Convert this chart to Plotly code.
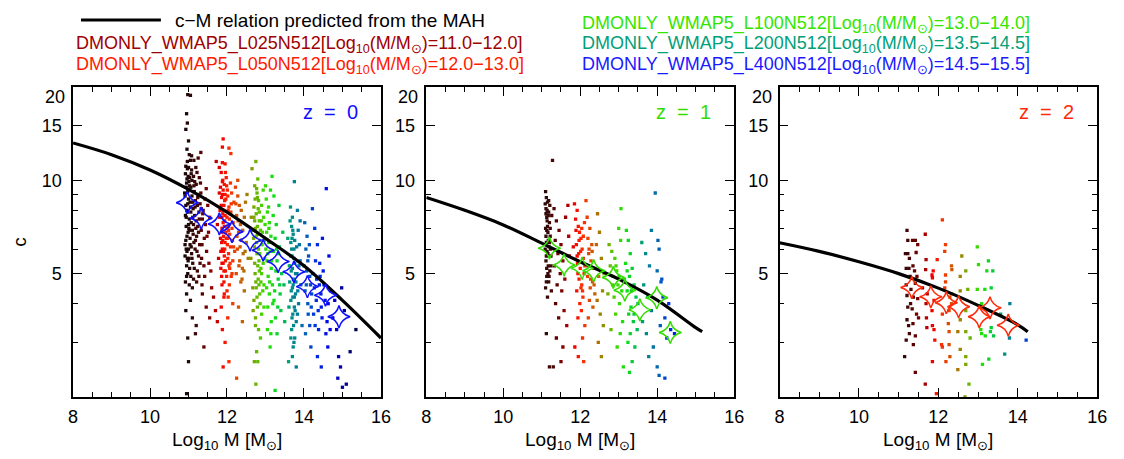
import plotly.graph_objects as go

W, H = 1124, 459

# c-M relation predicted from the MAH
curve_mass_z0 = [8, 9, 10, 11, 12, 13, 14, 15, 16]
curve_conc_z0 = [13.2, 12.1, 10.8, 9.35, 7.9, 6.5, 5.3, 4.1, 3.1]
curve_mass_z1 = [8, 9, 10, 11, 12, 13, 14, 15, 15.17]
curve_conc_z1 = [8.8, 8.0, 7.18, 6.27, 5.46, 4.8, 4.11, 3.35, 3.25]
curve_mass_z2 = [8, 9, 10, 11, 12, 13, 14, 14.25]
curve_conc_z2 = [6.29, 5.9, 5.46, 5.0, 4.49, 3.95, 3.42, 3.25]

# median concentration in mass bins (star symbols)
star_mass_z0 = [10.97, 11.33, 11.80, 12.13, 12.60, 12.94, 13.33, 13.74, 14.09, 14.56, 14.91]
star_conc_z0 = [8.47, 7.55, 7.23, 6.83, 6.41, 5.95, 5.47, 5.07, 4.54, 4.26, 3.63]
star_mass_z1 = [11.20, 11.58, 12.05, 12.35, 12.86, 13.16, 13.55, 13.99, 14.34]
star_conc_z1 = [6.04, 5.33, 5.20, 5.11, 4.86, 4.42, 3.82, 4.18, 3.23]
star_mass_z2 = [11.33, 11.81, 12.20, 12.51, 13.03, 13.30, 13.76]
star_conc_z2 = [4.51, 4.21, 4.03, 3.91, 3.63, 3.88, 3.41]

# individual haloes (log10 M, c)
halos_z0 = [
    (10.92, 10.5), (10.95, 9.8), (10.98, 9.2), (11.00, 8.7), (10.93, 8.3), (10.97, 7.9), (11.02, 7.5),
    (10.94, 7.1), (10.99, 6.8), (11.04, 6.5), (10.91, 6.2), (10.96, 5.9), (11.01, 5.6), (10.95, 5.3),
    (10.98, 5.0), (11.06, 9.5), (11.09, 8.9), (11.12, 8.1), (11.07, 7.3), (11.10, 6.9), (11.14, 6.3),
    (11.08, 5.8), (11.11, 5.4), (11.16, 7.7), (11.18, 8.6), (11.20, 9.7), (11.22, 10.6), (11.17, 6.0),
    (11.21, 6.6), (11.24, 7.1), (11.27, 7.9), (11.30, 8.4), (11.26, 5.7), (11.29, 6.2), (11.33, 6.9),
    (11.36, 7.5), (11.32, 9.1), (11.38, 8.0), (11.41, 6.5), (11.44, 7.2), (11.47, 5.9), (11.40, 5.3),
    (11.50, 8.3), (11.46, 9.4), (10.93, 11.1), (10.97, 10.9), (11.03, 10.2), (11.05, 11.6), (11.13, 10.3),
    (11.19, 11.0), (10.94, 7.6), (10.96, 6.6), (11.00, 6.0), (11.03, 5.2), (11.06, 4.9), (10.92, 4.7),
    (11.13, 4.8), (11.23, 5.1), (11.35, 4.6), (11.09, 10.0), (11.15, 9.2), (11.25, 9.0), (11.05, 8.2),
    (11.01, 9.9), (10.99, 10.3), (11.28, 10.2), (11.34, 5.6), (11.42, 4.9), (11.52, 6.8), (11.55, 7.6),
    (11.58, 5.1), (10.91, 8.9), (10.94, 9.5), (10.96, 8.0), (11.00, 7.2), (10.93, 6.4), (10.97, 5.6),
    (11.02, 6.9), (11.04, 8.5), (11.07, 6.1), (11.11, 7.6), (11.19, 7.0), (11.23, 8.3),
    (10.90, 9.1), (10.92, 7.7), (10.94, 6.0), (10.96, 10.1), (10.98, 8.4), (10.99, 5.5), (11.01, 7.0),
    (11.03, 9.6), (11.04, 6.2), (11.06, 7.9), (11.08, 10.8), (11.09, 5.6), (11.11, 8.5), (11.12, 6.7),
    (11.14, 9.6), (11.15, 5.2), (11.17, 8.2), (11.18, 6.4), (11.20, 7.4), (11.22, 5.9), (11.24, 8.8),
    (11.26, 6.8), (11.28, 7.5), (11.30, 5.4), (11.31, 9.8), (11.33, 8.1), (11.35, 6.2), (10.91, 5.7),
    (10.95, 4.9), (10.97, 11.5), (11.00, 11.0), (11.02, 4.6), (11.07, 10.5), (11.10, 4.5), (11.13, 7.2),
    (11.16, 9.9), (11.21, 4.7), (11.27, 4.9), (11.37, 7.8), (11.43, 8.7), (11.48, 6.6), (11.53, 5.4),
    (10.98, 18.9), (11.05, 18.8), (10.95, 16.4), (10.97, 15.3), (10.93, 14.6), (11.00, 13.4),
    (10.96, 12.6), (11.02, 12.1), (11.08, 12.0), (11.14, 11.6), (11.25, 11.8), (11.32, 12.3),
    (10.95, 4.3), (11.05, 4.1), (10.93, 3.8), (11.10, 3.6), (11.20, 3.4), (10.98, 3.1), (11.00, 2.6),
    (11.36, 4.3), (11.46, 3.9), (10.95, 2.05), (11.18, 3.2), (11.60, 4.5), (11.55, 3.6), (11.40, 2.9),
    (11.85, 10.6), (11.88, 9.9), (11.90, 9.3), (11.86, 8.8), (11.92, 8.3), (11.89, 7.8), (11.94, 7.4),
    (11.87, 7.0), (11.91, 6.6), (11.95, 6.3), (11.88, 6.0), (11.93, 5.7), (11.90, 5.4), (11.96, 5.1),
    (11.86, 4.9), (11.99, 9.6), (12.02, 8.9), (12.05, 8.2), (12.00, 7.6), (12.03, 7.1), (12.07, 6.7),
    (12.01, 6.2), (12.04, 5.8), (12.08, 5.4), (12.10, 7.9), (12.12, 9.1), (11.98, 10.2), (12.14, 6.4),
    (12.16, 7.3), (12.18, 8.5), (12.20, 5.9), (12.13, 5.0), (11.83, 6.5), (11.82, 8.0), (11.80, 9.1),
    (11.78, 5.6), (11.75, 7.2), (11.92, 4.7), (12.06, 4.6), (11.97, 6.8), (11.94, 8.6), (11.89, 10.0),
    (12.09, 9.8), (11.84, 5.2), (12.00, 4.4), (12.11, 4.9), (11.87, 7.6), (11.91, 5.9), (11.95, 9.0),
    (12.02, 6.5), (11.86, 6.3), (11.93, 7.1), (12.05, 5.3),
    (11.81, 7.6), (11.83, 9.5), (11.84, 5.9), (11.85, 8.3), (11.86, 6.8), (11.87, 5.4), (11.88, 9.0),
    (11.89, 6.4), (11.90, 7.3), (11.91, 8.0), (11.92, 5.1), (11.93, 9.7), (11.94, 6.0), (11.95, 7.7),
    (11.96, 5.5), (11.97, 8.7), (11.98, 6.5), (11.99, 4.9), (12.00, 7.0), (12.01, 9.3), (12.02, 5.6),
    (12.03, 8.0), (12.04, 6.9), (12.06, 7.5), (12.07, 5.2), (12.09, 6.1), (12.11, 8.4), (12.13, 7.0),
    (12.15, 5.5), (12.17, 6.1), (11.87, 4.6), (11.93, 4.3), (12.03, 4.2), (11.96, 10.6), (11.88, 11.4),
    (11.90, 13.6), (11.88, 12.8), (12.05, 12.7), (12.10, 12.2), (11.95, 11.3), (11.72, 11.5),
    (11.80, 11.0), (11.92, 4.2), (11.85, 3.9), (12.02, 3.6), (11.88, 3.3), (11.95, 3.0), (11.90, 2.5),
    (12.05, 2.6), (12.15, 4.0), (11.75, 3.5), (12.25, 2.3), (11.65, 4.2), (11.70, 3.8),
    (12.22, 9.5), (12.28, 8.9), (12.32, 8.3), (12.25, 7.7), (12.35, 7.2), (12.30, 6.8), (12.38, 6.4),
    (12.27, 6.0), (12.42, 5.8), (12.33, 5.5), (12.45, 7.6), (12.48, 8.5), (12.40, 5.2), (12.24, 5.0),
    (12.50, 6.3), (12.36, 4.7), (12.45, 4.4), (12.30, 3.9), (12.52, 9.0), (12.55, 5.6), (12.28, 10.0),
    (12.40, 3.5), (12.23, 8.4), (12.26, 6.6), (12.29, 7.4), (12.31, 5.3), (12.34, 6.1), (12.37, 8.0),
    (12.41, 6.9), (12.44, 5.1), (12.47, 5.9), (12.39, 4.8),
    (12.65, 10.9), (12.75, 11.5), (12.80, 10.1), (12.72, 9.6), (12.78, 9.1), (12.82, 8.6), (12.70, 8.2),
    (12.76, 7.8), (12.84, 7.4), (12.74, 7.0), (12.80, 6.7), (12.86, 6.4), (12.71, 6.1), (12.78, 5.8),
    (12.83, 5.5), (12.88, 5.2), (12.73, 5.0), (12.81, 4.8), (12.76, 4.5), (12.85, 4.3), (12.70, 4.1),
    (12.79, 3.9), (12.90, 3.7), (12.68, 3.8), (12.74, 3.6), (12.92, 6.8), (12.95, 7.6), (12.90, 8.3),
    (12.94, 9.3), (12.98, 5.6), (12.96, 4.6), (12.62, 5.6), (12.66, 6.9), (12.82, 3.3), (12.77, 2.8),
    (12.80, 2.6), (12.75, 2.2), (12.87, 3.1), (12.77, 6.3), (12.72, 7.4), (12.84, 5.1), (12.79, 8.8),
    (12.70, 7.6), (12.72, 5.4), (12.73, 8.7), (12.75, 4.7), (12.76, 6.6), (12.77, 9.4), (12.78, 4.2),
    (12.79, 7.1), (12.80, 5.3), (12.81, 8.1), (12.82, 6.0), (12.83, 4.6), (12.84, 7.9), (12.85, 5.8),
    (12.86, 4.0), (12.87, 6.9), (12.88, 4.7), (12.89, 7.4), (12.90, 5.0), (12.91, 6.2), (12.93, 4.4),
    (12.94, 5.4), (12.97, 6.4), (12.99, 7.2), (12.67, 4.5), (12.69, 6.5), (12.74, 3.4), (12.71, 2.6),
    (12.96, 3.9), (12.63, 7.6),
    (13.02, 8.7), (13.05, 7.9), (13.10, 7.3), (13.03, 6.8), (13.08, 6.3), (13.12, 5.9), (13.04, 5.5),
    (13.15, 5.2), (13.07, 4.9), (13.18, 4.6), (13.10, 4.3), (13.22, 4.1), (13.06, 3.9), (13.25, 6.5),
    (13.28, 7.2), (13.20, 7.7), (13.30, 5.5), (13.33, 4.8), (13.36, 6.1), (13.40, 3.8), (13.15, 3.5),
    (13.30, 3.2), (13.00, 9.6), (13.13, 9.3), (13.22, 8.9), (13.35, 8.3), (13.05, 3.3), (13.12, 2.9),
    (13.25, 2.1), (13.42, 5.0), (13.45, 6.8), (13.17, 10.3), (13.38, 4.3), (13.48, 4.6), (13.50, 3.5),
    (13.01, 6.0), (13.03, 4.5), (13.06, 5.8), (13.09, 7.0), (13.11, 4.7), (13.14, 6.6), (13.16, 5.5),
    (13.19, 4.0), (13.21, 5.9), (13.24, 4.4), (13.27, 5.1), (13.29, 6.0), (13.32, 3.9), (13.34, 5.8),
    (13.37, 4.6), (13.08, 8.2), (13.26, 3.6), (13.14, 3.2),
    (13.65, 8.2), (13.70, 7.6), (13.68, 7.1), (13.72, 6.7), (13.66, 6.3), (13.74, 6.0), (13.69, 5.7),
    (13.76, 5.4), (13.67, 5.1), (13.73, 4.8), (13.70, 4.5), (13.78, 4.3), (13.66, 4.1), (13.75, 3.9),
    (13.71, 3.7), (13.80, 3.5), (13.68, 3.3), (13.76, 3.1), (13.72, 2.9), (13.85, 6.9), (13.88, 6.2),
    (13.90, 5.5), (13.82, 5.0), (13.92, 4.6), (13.86, 4.0), (13.62, 5.3), (13.58, 6.5), (13.90, 7.4),
    (13.83, 8.0), (13.75, 9.9), (13.60, 2.6), (13.95, 3.4), (13.80, 2.5), (13.69, 6.5), (13.71, 4.2),
    (13.64, 7.4), (13.66, 5.7), (13.67, 4.4), (13.68, 6.0), (13.69, 3.6), (13.70, 5.2), (13.71, 6.9),
    (13.72, 4.6), (13.73, 3.4), (13.74, 5.6), (13.75, 4.2), (13.76, 6.4), (13.77, 3.8), (13.78, 5.0),
    (13.79, 4.7), (13.81, 6.1), (13.83, 3.7), (13.84, 4.4), (13.87, 5.3), (13.70, 2.7), (13.74, 3.0),
    (13.66, 3.1), (13.63, 4.7), (13.61, 3.9),
    (14.02, 7.3), (14.08, 6.6), (14.05, 6.0), (14.12, 5.7), (14.00, 5.3), (14.15, 4.9), (14.06, 4.6),
    (14.20, 4.3), (14.10, 4.0), (14.25, 3.7), (14.15, 3.4), (14.30, 5.5), (14.35, 6.2), (14.40, 4.6),
    (14.45, 3.9), (14.38, 3.3), (14.50, 5.1), (14.55, 4.1), (14.60, 3.5), (14.28, 7.0), (14.22, 8.1),
    (14.48, 6.5), (14.65, 5.7), (14.70, 4.4), (14.18, 2.9), (14.35, 2.7), (14.62, 2.9), (14.45, 2.5),
    (14.75, 3.6), (14.80, 4.1), (14.58, 9.4), (14.42, 4.9), (14.32, 4.1),
    (14.03, 4.4), (14.07, 5.1), (14.11, 3.7), (14.14, 6.2), (14.17, 4.6), (14.19, 3.9), (14.23, 5.0),
    (14.27, 4.5), (14.29, 3.4), (14.33, 4.8), (14.37, 3.8), (14.41, 5.4), (14.44, 4.3), (14.47, 3.6),
    (14.52, 4.6), (14.57, 3.2), (14.63, 4.0), (14.68, 3.3), (14.10, 5.5), (14.04, 3.2),
    (14.85, 3.3), (14.90, 2.7), (14.95, 2.5), (14.88, 2.3), (15.05, 3.8), (15.20, 2.8), (15.35, 3.3),
    (15.10, 2.2), (14.98, 4.5), (15.00, 2.15),
]

halos_z1 = [
    (11.10, 9.2), (11.12, 8.8), (11.15, 8.5), (11.11, 8.1), (11.18, 7.9), (11.13, 7.6), (11.20, 7.3),
    (11.10, 7.0), (11.16, 6.8), (11.22, 6.6), (11.12, 6.3), (11.19, 6.1), (11.14, 5.9), (11.24, 5.7),
    (11.11, 5.5), (11.17, 5.3), (11.21, 5.1), (11.13, 4.9), (11.18, 4.7), (11.10, 4.5), (11.25, 4.4),
    (11.15, 4.2), (11.12, 3.2), (11.20, 2.5), (11.28, 11.6), (11.14, 7.4), (11.21, 8.3), (11.26, 7.7),
    (11.23, 6.0), (11.16, 5.0), (11.11, 7.8), (11.13, 6.9), (11.17, 6.4), (11.12, 5.7),
    (11.09, 8.4), (11.11, 6.6), (11.13, 5.2), (11.14, 8.0), (11.15, 7.1), (11.16, 5.8), (11.17, 7.7),
    (11.19, 4.9), (11.20, 6.3), (11.22, 7.0), (11.09, 6.0), (11.12, 4.7), (11.18, 8.6), (11.24, 5.3),
    (11.32, 8.1), (11.38, 7.4), (11.45, 6.9), (11.35, 6.4), (11.50, 6.2), (11.42, 5.8), (11.55, 5.5),
    (11.33, 5.3), (11.48, 5.0), (11.60, 4.8), (11.40, 4.6), (11.52, 4.4), (11.36, 4.0), (11.58, 3.8),
    (11.44, 3.6), (11.65, 3.4), (11.38, 3.1), (11.55, 2.9), (11.70, 6.6), (11.62, 7.6), (11.68, 8.3),
    (11.30, 2.5), (11.50, 2.6), (11.72, 5.7),
    (11.85, 8.4), (11.92, 8.0), (11.88, 7.5), (11.95, 7.1), (11.98, 6.8), (12.02, 6.5), (11.90, 6.2),
    (12.05, 6.0), (11.96, 5.8), (12.08, 5.6), (11.93, 5.4), (12.00, 5.2), (12.10, 5.0), (11.97, 4.8),
    (12.04, 4.6), (11.91, 4.4), (12.07, 4.2), (11.99, 4.0), (12.03, 3.8), (11.94, 3.6), (12.12, 3.4),
    (12.06, 3.1), (11.86, 2.9), (12.09, 2.6), (11.95, 2.7), (12.15, 8.6), (12.11, 7.3), (11.82, 6.1),
    (11.89, 6.9), (11.94, 5.0), (11.97, 6.4), (12.01, 5.9), (12.04, 7.0), (12.06, 4.4), (12.08, 6.6),
    (11.92, 5.7), (12.02, 4.5), (12.12, 5.3),
    (12.18, 7.6), (12.25, 7.0), (12.20, 6.5), (12.30, 6.2), (12.22, 5.8), (12.28, 5.5), (12.35, 5.2),
    (12.19, 4.9), (12.32, 4.7), (12.26, 4.5), (12.38, 4.3), (12.24, 4.1), (12.33, 3.9), (12.21, 3.6),
    (12.20, 5.3), (12.23, 6.0), (12.27, 4.8), (12.31, 5.9), (12.36, 4.6),
    (12.45, 7.8), (12.50, 6.8), (12.42, 6.2), (12.55, 5.6), (12.48, 4.9), (12.58, 4.4), (12.44, 4.1),
    (12.52, 3.7), (12.60, 3.4), (12.47, 3.0), (12.55, 2.7), (12.62, 5.0),
    (12.75, 6.2), (12.82, 5.9), (12.90, 5.6), (12.78, 5.3), (12.95, 5.1), (12.85, 4.9), (13.00, 7.0),
    (13.05, 6.4), (12.98, 4.6), (13.08, 4.4), (12.88, 4.2), (13.02, 4.0), (12.92, 3.7), (13.10, 3.5),
    (12.80, 3.3), (13.04, 3.2), (12.96, 2.9), (13.12, 2.5), (13.06, 8.1), (12.72, 4.3),
    (12.84, 4.6), (12.93, 5.3), (13.01, 4.9),
    (13.20, 6.9), (13.25, 6.4), (13.30, 5.8), (13.18, 5.4), (13.35, 5.2), (13.28, 4.9), (13.40, 4.6),
    (13.22, 4.4), (13.45, 4.2), (13.32, 3.9), (13.26, 3.7), (13.38, 3.5), (13.30, 3.2), (13.24, 3.0),
    (13.42, 2.9), (13.35, 2.6), (13.28, 2.4), (13.50, 4.0), (13.48, 3.3), (13.15, 4.8), (13.22, 5.1),
    (13.33, 4.4), (13.40, 3.7),
    (13.60, 6.3), (13.70, 5.8), (13.80, 5.3), (13.65, 4.6), (13.75, 4.2), (13.85, 3.8), (13.62, 3.5),
    (13.72, 3.2), (13.90, 2.9), (13.78, 2.7), (14.00, 5.1), (14.05, 6.0), (14.02, 6.4), (14.10, 4.7),
    (14.15, 4.2), (14.08, 3.4), (14.20, 3.6), (14.25, 3.1), (14.30, 4.0), (14.35, 3.3), (14.45, 3.2),
    (14.00, 2.5), (14.05, 2.35), (14.20, 2.3), (13.95, 9.1), (13.85, 6.9), (14.12, 4.8),
]

halos_z2 = [
    (11.21, 6.9), (11.23, 6.4), (11.42, 6.4), (11.48, 6.2), (11.23, 5.8), (11.27, 5.6), (11.44, 5.85),
    (11.36, 5.3), (11.26, 5.2), (11.40, 5.1), (11.29, 4.9), (11.19, 4.6), (11.42, 4.65), (11.31, 4.45),
    (11.21, 4.25), (11.37, 4.2), (11.48, 4.15), (11.23, 3.9), (11.34, 3.85), (11.45, 3.7), (11.21, 3.55),
    (11.36, 3.45), (11.50, 3.6), (11.27, 3.2), (11.42, 3.15), (11.19, 3.05), (11.37, 2.95), (11.15, 2.7),
    (11.42, 2.4), (11.35, 6.4), (11.17, 5.8), (11.19, 5.2), (11.30, 4.0), (11.46, 4.9), (11.25, 3.4),
    (11.67, 6.7), (11.69, 5.55), (11.68, 5.15), (11.87, 5.1), (11.97, 5.55), (11.84, 4.95), (11.85, 4.85),
    (11.72, 4.3), (11.69, 4.0), (11.89, 4.1), (11.70, 3.6), (11.84, 3.8), (11.71, 3.35), (11.85, 3.4),
    (11.89, 3.3), (11.91, 3.05), (11.85, 2.6), (11.67, 2.2), (11.95, 2.05), (12.08, 2.95), (11.60, 4.5),
    (12.10, 7.45), (12.18, 6.2), (12.16, 5.9), (12.18, 4.95), (12.18, 4.7), (12.16, 4.5), (12.10, 3.7),
    (12.10, 2.9), (12.19, 2.6),
    (12.29, 2.7), (12.33, 5.3), (12.34, 5.15), (12.33, 4.3), (12.29, 4.2), (12.33, 4.0), (12.27, 3.8),
    (12.25, 3.45), (12.27, 3.25), (12.27, 2.95),
    (12.59, 5.7), (12.69, 5.1), (12.55, 4.9), (12.74, 4.45), (12.55, 4.4), (12.69, 3.8), (12.55, 3.55),
    (12.49, 3.25), (12.69, 3.25), (12.80, 3.1), (12.55, 2.85), (12.69, 2.7), (12.69, 2.55), (12.49, 2.45),
    (12.77, 2.2), (12.67, 2.0),
    (12.98, 6.1), (13.01, 5.35), (12.98, 4.45), (13.09, 4.0), (13.07, 3.3), (13.09, 3.2), (13.11, 2.55),
    (13.26, 5.5), (13.22, 5.1), (13.37, 5.1), (13.17, 4.45), (13.33, 4.5), (13.33, 3.35), (13.31, 3.25),
    (13.18, 3.15), (13.39, 3.15), (13.57, 3.7), (13.80, 4.0), (13.79, 3.1), (13.27, 2.65), (13.67, 2.75),
    (14.21, 3.05),
]

z_labels = ["z = 0", "z = 1", "z = 2"]
z_colors = ["#1010ff", "#33dd00", "#ff2a0a"]

sim_names = ["DMONLY_WMAP5_L025N512", "DMONLY_WMAP5_L050N512", "DMONLY_WMAP5_L100N512",
             "DMONLY_WMAP5_L200N512", "DMONLY_WMAP5_L400N512"]
sim_ranges = ["11.0\u221212.0", "12.0\u221213.0", "13.0\u221214.0", "13.5\u221214.5", "14.5\u221215.5"]
sim_colors = ["#a00000", "#ff1a00", "#33e600", "#00a07a", "#1a1aff"]

# colour of the haloes follows their mass
mass_colors = [
    (10.9, "#1a0505"), (11.1, "#2e0a0a"), (11.4, "#600000"), (11.65, "#a00000"),
    (11.85, "#f00000"), (12.05, "#ff2a00"), (12.3, "#d85000"), (12.5, "#a87800"),
    (12.7, "#78a800"), (12.95, "#40d800"), (13.2, "#10e010"), (13.45, "#00c050"),
    (13.7, "#008a8a"), (14.0, "#0068b0"), (14.3, "#0030e0"), (14.7, "#0000e8"),
    (15.0, "#0000a0"), (15.4, "#000040"),
]
cmin, cmax = mass_colors[0][0], mass_colors[-1][0]
colorscale = [[(m - cmin) / (cmax - cmin), col] for m, col in mass_colors]

FONT = "Liberation Sans, Arial, sans-serif"

def px_x(x):
    return x / W

def px_y(y):
    return 1 - y / H

# panel frames in pixels (left, right); all share the same vertical extent
panels_px = [(69, 381), (427, 739), (785, 1107)]
y_top, y_bot = 87, 397

fig = go.Figure()

panels = [
    (halos_z0, curve_mass_z0, curve_conc_z0, star_mass_z0, star_conc_z0),
    (halos_z1, curve_mass_z1, curve_conc_z1, star_mass_z1, star_conc_z1),
    (halos_z2, curve_mass_z2, curve_conc_z2, star_mass_z2, star_conc_z2),
]

for i, (halos, cm, cc, sm, sc) in enumerate(panels):
    xa = "x" if i == 0 else f"x{i + 1}"
    ya = "y" if i == 0 else f"y{i + 1}"
    hm = [h[0] for h in halos]
    hc = [h[1] for h in halos]
    fig.add_trace(go.Scatter(
        x=hm, y=hc, mode="markers", xaxis=xa, yaxis=ya, showlegend=False,
        marker=dict(size=3.3, symbol="square", color=hm, colorscale=colorscale,
                    cmin=cmin, cmax=cmax, line=dict(width=0)),
    ))
    fig.add_trace(go.Scatter(
        x=cm, y=cc, mode="lines", xaxis=xa, yaxis=ya, showlegend=False,
        line=dict(color="black", width=3.2, shape="spline"),
    ))
    fig.add_trace(go.Scatter(
        x=sm, y=sc, mode="markers", xaxis=xa, yaxis=ya, showlegend=False,
        marker=dict(symbol="star-diamond-open", size=16, color=z_colors[i],
                    line=dict(width=1.5, color=z_colors[i])),
    ))

axis_common = dict(
    showline=True, linecolor="black", linewidth=1.5, mirror="ticks",
    ticks="inside", tickcolor="black", tickwidth=1.3, showgrid=False, zeroline=False,
    tickfont=dict(family=FONT, size=18, color="black"),
)

layout = dict(
    width=W, height=H, plot_bgcolor="white", paper_bgcolor="white",
    margin=dict(l=0, r=0, t=0, b=0), showlegend=False,
    font=dict(family=FONT, color="black"),
)
for i, (l, r) in enumerate(panels_px):
    sx = "" if i == 0 else str(i + 1)
    layout[f"xaxis{sx}"] = dict(
        axis_common, domain=[px_x(l), px_x(r)], range=[8, 16], anchor=f"y{sx}",
        tickvals=[8, 10, 12, 14, 16], ticklen=9, ticklabelstandoff=3,
        minor=dict(dtick=0.5, ticks="inside", ticklen=5, tickcolor="black", tickwidth=1.2),
    )
    # the "20" label is drawn separately, a little below the top edge as in the original
    layout[f"yaxis{sx}"] = dict(
        axis_common, domain=[px_y(y_bot), px_y(y_top)], type="log",
        range=[0.30103, 1.30103], anchor=f"x{sx}",
        tickvals=[5, 10, 15, 20], ticktext=["5", "10", "15", ""], ticklen=9,
        ticklabelstandoff=6,
        minor=dict(tickvals=[3, 4, 6, 7, 8, 9], ticks="inside", ticklen=5,
                   tickcolor="black", tickwidth=1.2),
    )

fig.update_layout(**layout)

annotations = []
for i, (l, r) in enumerate(panels_px):
    annotations.append(dict(
        x=px_x(r - 51), y=px_y(112), xref="paper", yref="paper", showarrow=False,
        xanchor="center", yanchor="middle",
        text=z_labels[i].replace(" ", "\u00a0\u00a0"),
        font=dict(family=FONT, size=20, color=z_colors[i]),
    ))
    annotations.append(dict(
        x=px_x((l + r) / 2), y=px_y(441), xref="paper", yref="paper", showarrow=False,
        xanchor="center", yanchor="middle",
        text="Log<sub>10</sub> M [M<sub>\u2299</sub>]",
        font=dict(family=FONT, size=19, color="black"),
    ))
    annotations.append(dict(
        x=px_x(l - 6), y=px_y(97), xref="paper", yref="paper", showarrow=False,
        xanchor="right", yanchor="middle", text="20",
        font=dict(family=FONT, size=18, color="black"),
    ))

annotations.append(dict(
    x=px_x(14), y=px_y(242), xref="paper", yref="paper", showarrow=False,
    xanchor="center", yanchor="middle",
    text="c", textangle=-90, font=dict(family=FONT, size=19, color="black"),
))

# key at the top
annotations.append(dict(
    x=px_x(170), y=px_y(20), xref="paper", yref="paper", showarrow=False,
    xanchor="left", yanchor="middle", text="c\u2212M relation predicted from the MAH",
    font=dict(family=FONT, size=19, color="black"),
))
key_pos = [(70, 45), (70, 65), (583, 24), (583, 45), (583, 65)]
for (kx, ky), name, rng, col in zip(key_pos, sim_names, sim_ranges, sim_colors):
    annotations.append(dict(
        x=px_x(kx), y=px_y(ky), xref="paper", yref="paper", showarrow=False,
        xanchor="left", yanchor="middle",
        text=f"{name}[Log<sub>10</sub>(M/M<sub>\u2299</sub>)={rng}]",
        font=dict(family=FONT, size=18, color=col),
    ))

fig.update_layout(
    annotations=annotations,
    shapes=[dict(type="line", xref="paper", yref="paper",
                 x0=px_x(77), x1=px_x(158), y0=px_y(20), y1=px_y(20),
                 line=dict(color="black", width=3))],
)

# the page's default body margin would shift the whole figure by 8 px
fig.write_html("out.html", config={"displayModeBar": False},
               post_script="document.body.style.margin = '0px';")
